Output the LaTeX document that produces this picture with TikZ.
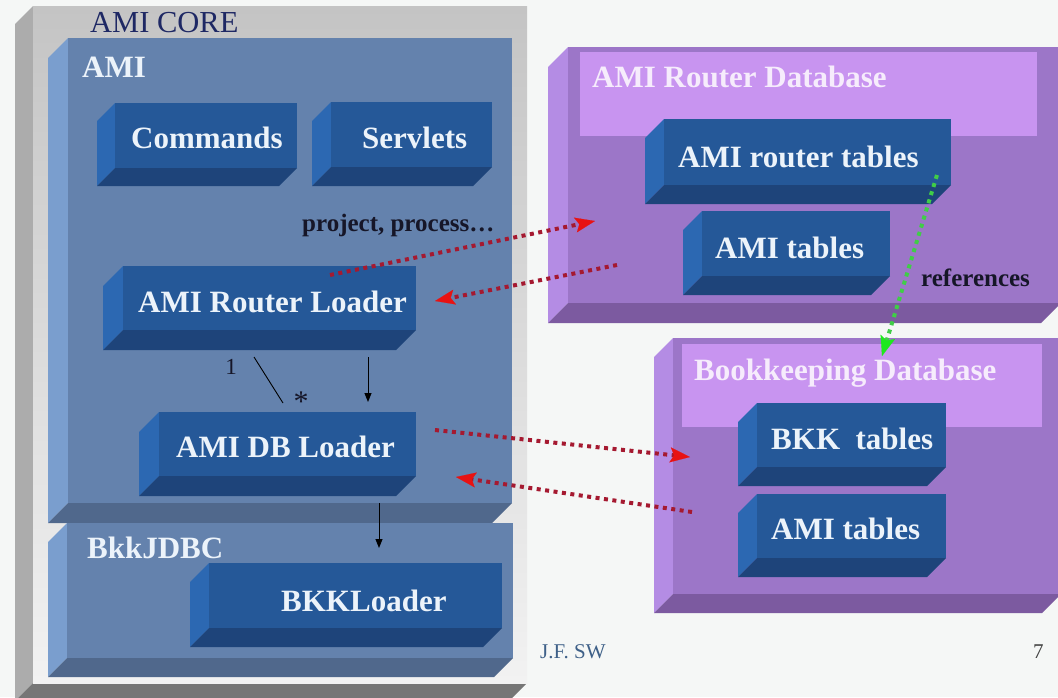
\documentclass[tikz,border=0pt]{standalone}
\usepackage{fontspec}
\setmainfont{Liberation Serif}
\usetikzlibrary{arrows.meta}

% palette
\definecolor{bgc}{RGB}{245,247,246}
\definecolor{coreTop}{RGB}{196,196,196}
\definecolor{coreBottom}{RGB}{242,242,242}
\definecolor{coreSide}{RGB}{172,172,172}
\definecolor{coreBase}{RGB}{118,118,118}
\definecolor{panelF}{RGB}{100,130,173}
\definecolor{panelS}{RGB}{122,158,206}
\definecolor{panelB}{RGB}{80,104,140}
\definecolor{boxF}{RGB}{37,88,152}
\definecolor{boxS}{RGB}{44,104,178}
\definecolor{boxB}{RGB}{30,68,122}
\definecolor{purpF}{RGB}{156,118,200}
\definecolor{purpS}{RGB}{180,140,228}
\definecolor{purpB}{RGB}{124,90,160}
\definecolor{purpH}{RGB}{200,148,240}
\definecolor{labelc}{RGB}{236,243,250}
\definecolor{dblabelc}{RGB}{246,236,252}
\definecolor{navy}{RGB}{30,40,100}
\definecolor{ink}{RGB}{22,22,40}
\definecolor{dotred}{RGB}{165,25,48}
\definecolor{tipred}{RGB}{232,18,18}
\definecolor{dotgreen}{RGB}{64,205,72}
\definecolor{tipgreen}{RGB}{30,232,30}
\definecolor{footc}{RGB}{62,96,136}

\tikzset{
  grayfront/.style={top color=coreTop, bottom color=coreBottom},
  grayside/.style={fill=coreSide},
  graybot/.style={fill=coreBase},
  panelfront/.style={fill=panelF},
  panelside/.style={fill=panelS},
  panelbot/.style={fill=panelB},
  boxfront/.style={fill=boxF},
  boxside/.style={fill=boxS},
  boxbot/.style={fill=boxB},
  purpfront/.style={fill=purpF},
  purpside/.style={fill=purpS},
  purpbot/.style={fill=purpB},
  header/.style={fill=purpH, inner sep=0pt, outer sep=0pt, anchor=north west},
  boxlabel/.style={text=labelc, font=\fontsize{31}{31}\selectfont\bfseries,
    inner sep=0pt, anchor=base west},
  dblabel/.style={boxlabel, text=dblabelc},
  corelabel/.style={text=navy, font=\fontsize{30.5}{31}\selectfont,
    inner sep=0pt, anchor=base west},
  note/.style={text=ink, font=\fontsize{25}{25}\selectfont\bfseries,
    inner sep=0pt, anchor=base west},
  mult/.style={text=ink, font=\fontsize{23}{23}\selectfont, inner sep=0pt},
  foot/.style={font=\fontsize{21}{21}\selectfont, inner sep=0pt, anchor=base west},
  reddots/.style={draw=dotred, line width=4pt, dash pattern=on 4pt off 4.5pt,
    -{Stealth[length=20pt, width=15pt, inset=4pt, line width=0.1pt, color=tipred]}},
  greendots/.style={draw=dotgreen, line width=4pt, dash pattern=on 4pt off 4.5pt,
    -{Stealth[length=20pt, width=15pt, inset=4pt, line width=0.1pt, color=tipgreen]}},
  blackarrow/.style={draw=black, line width=1pt,
    -{Triangle[length=9pt, width=7pt]}},
  plainline/.style={draw=black, line width=0.9pt},
}

% bevelled slab: name, x1, y1, x2, y2 (front face), depth, colour set
\newcommand\slab[7]{%
  \fill[#7side] (#2,#3) -- (#2-#6,#3+#6) -- (#2-#6,#5+#6) -- (#2,#5) -- cycle;
  \fill[#7bot] (#2,#5) -- (#2-#6,#5+#6) -- (#4-#6,#5+#6) -- (#4,#5) -- cycle;
  \node[#7front, inner sep=0pt, outer sep=0pt, anchor=north west,
        minimum width={(#4-#2)*1pt}, minimum height={(#5-#3)*1pt}] (#1) at (#2,#3) {};%
}

\begin{document}
\begin{tikzpicture}[x=1pt,y=-1pt]
\useasboundingbox (0,0) rectangle (1058,697);
\clip (0,0) rectangle (1058,697);
\fill[bgc] (0,0) rectangle (1058,697);

% AMI CORE frame and its two layers
\slab{core}{33}{6}{527}{683}{18}{gray}
\slab{ami}{68}{38}{512}{503}{20}{panel}
\slab{jdbc}{67}{523}{513}{658}{19}{panel}

% components inside AMI
\slab{cmd}{115}{103}{297}{168}{18}{box}
\slab{srv}{331}{102}{492}{167}{19}{box}
\slab{rl}{123}{266}{416}{330}{20}{box}
\slab{dbl}{159}{412}{416}{476}{20}{box}
\slab{bkl}{209}{563}{502}{628}{19}{box}

% AMI Router Database
\slab{rdb}{568}{47}{1061}{303}{20}{purp}
\node[header, minimum width=457pt, minimum height=84pt] (rdbh) at (580,52) {};
\slab{rt}{664}{119}{951}{185}{19}{box}
\slab{rat}{702}{211}{890}{276}{19}{box}

% Bookkeeping Database
\slab{bdb}{673}{338}{1061}{594}{19}{purp}
\node[header, minimum width=360pt, minimum height=83pt] (bdbh) at (682,344) {};
\slab{bkt}{757}{403}{946}{467}{19}{box}
\slab{bat}{757}{494}{946}{558}{19}{box}

% labels
\node[corelabel] (core-t) at (90,32) {AMI CORE};
\node[boxlabel] (ami-t) at (82,77) {AMI};
\node[boxlabel] (cmd-t) at (131,148) {Commands};
\node[boxlabel] (srv-t) at (362,148) {Servlets};
\node[note] (proj-t) at (302,231) {project, process…};
\node[boxlabel] (rl-t) at (138,312) {AMI Router Loader};
\node[boxlabel] (dbl-t) at (176,457) {AMI DB Loader};
\node[boxlabel] (jdbc-t) at (87,558) {BkkJDBC};
\node[boxlabel] (bkl-t) at (281,611) {BKKLoader};
\node[dblabel] (rdb-t) at (592,87) {AMI Router Database};
\node[boxlabel] (rt-t) at (678,167) {AMI router tables};
\node[boxlabel] (rat-t) at (715,258) {AMI tables};
\node[note] (refs-t) at (921,286) {references};
\node[dblabel] (bdb-t) at (694,380) {Bookkeeping Database};
\node[boxlabel] (bkt-t) at (771,449) {BKK\ \ tables};
\node[boxlabel] (bat-t) at (771,539) {AMI tables};
\node[mult, anchor=base] (one-t) at (231,374) {1};
\node[mult, font=\fontsize{30}{30}\selectfont] (many-t) at (301,402) {*};
\node[foot, text=footc] (sig-t) at (540,658) {J.F. SW};
\node[foot, text=black!75] (page-t) at (1033,658) {7};

% end points of the connectors
\coordinate (rl-req) at (330,275);
\coordinate (rdb-in) at (595,221);
\coordinate (rdb-out) at (617,265);
\coordinate (rl-in) at (435,301);
\coordinate (dbl-req) at (435,430);
\coordinate (bdb-in) at (690,457);
\coordinate (bdb-out) at (692,512);
\coordinate (dbl-in) at (456,477);
\coordinate (rt-ref) at (937,175);
\coordinate (bdb-ref) at (882,356);
\coordinate (rl-down) at (368,357);
\coordinate (dbl-top) at (368,402);
\coordinate (dbl-down) at (379,503);
\coordinate (bkl-top) at (379,548);
\coordinate (one-end) at (254,357);
\coordinate (many-end) at (283,403);

% connectors
\draw[plainline] (one-end) -- (many-end);
\draw[blackarrow] (rl-down) -- (dbl-top);
\draw[blackarrow] (dbl-down) -- (bkl-top);
\draw[reddots] (rl-req) -- (rdb-in);
\draw[reddots] (rdb-out) -- (rl-in);
\draw[reddots] (dbl-req) -- (bdb-in);
\draw[reddots] (bdb-out) -- (dbl-in);
\draw[greendots] (rt-ref) -- (bdb-ref);
\end{tikzpicture}
\end{document}
